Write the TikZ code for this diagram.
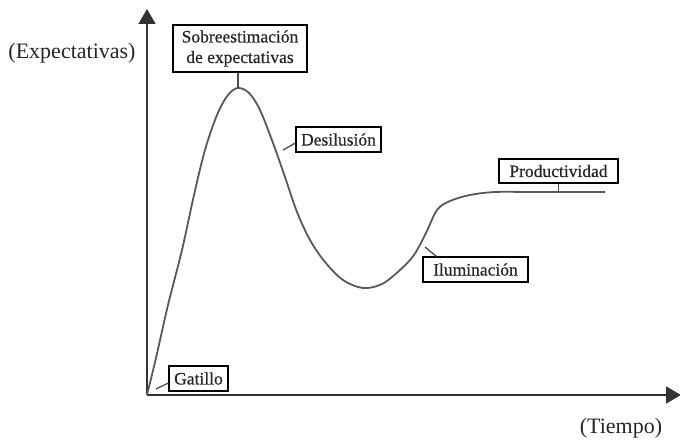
\documentclass[tikz,border=0pt]{standalone}
\usepackage{fontspec}
\setmainfont{Liberation Serif}
\newfontfamily\lblfont[FakeBold=0.5]{Liberation Serif}
\usetikzlibrary{arrows.meta}
\tikzset{
  axis/.style={line width=1.6pt, draw=black!80, -{Triangle[width=17pt,length=15pt]}},
  curve/.style={line width=1.8pt, draw=black!65, line join=round},
  lbl/.style={draw=black, line width=1.3pt, fill=white, inner sep=2pt,
              font=\lblfont\fontsize{17.5}{20.5}\selectfont, align=center, text=black!85},
  axlbl/.style={font=\fontsize{22}{26}\selectfont, inner sep=0pt, text=black!85},
  tick/.style={line width=1.3pt, draw=black!70},
}
\begin{document}
\begin{tikzpicture}[x=1pt,y=-1pt]
\useasboundingbox (0,0) rectangle (680,441);
% axes
\coordinate (o) at (147,395);
\coordinate (ytip) at (147,9);
\coordinate (xtip) at (681,395);
\draw[axis] (o) -- (ytip);
\draw[axis] (o) -- (xtip);
% curve
\coordinate (peak) at (238,88);
\coordinate (flat) at (558,192);
\draw[curve] plot[smooth, tension=0.55] coordinates {
  (147,395) (156,358) (168,305) (182,250) (194,195) (205,150) (217,115)
  (228,95) (238,88) (249,93) (260,110) (273,143) (285,177) (297,212)
  (310,240) (325,262) (343,280) (363,288) (382,284) (400,270) (414,255)
  (426,233) (437,210) (450,201) (470,195) (495,192) (530,192) (570,192) (605,192)};
% labels
\node[axlbl] (ylab) at (72,53) {(Expectativas)};
\node[axlbl] (xlab) at (621,428) {(Tiempo)};
\node[lbl, minimum width=134pt, minimum height=47pt] (sob) at (240,48.5)
  {Sobreestimación\\de expectativas};
\node[lbl, minimum width=85pt, minimum height=25pt] (des) at (338.5,139.5) {Desilusión};
\node[lbl, minimum width=105pt, minimum height=25pt] (ilu) at (475.5,269.5) {Iluminación};
\node[lbl, minimum width=119pt, minimum height=24pt] (pro) at (558.5,171) {Productividad};
\node[lbl, minimum width=59pt, minimum height=25pt] (gat) at (198.5,378.5) {Gatillo};
% connectors
\coordinate (dpt) at (283,150);
\coordinate (ipt) at (425,247);
\coordinate (gpt) at (156,389);
\draw[tick] (sob.south -| peak) -- (peak);
\draw[tick] (dpt) -- ([yshift=-3.5pt]des.west);
\draw[tick] (ipt) -- ([xshift=14pt]ilu.north west);
\draw[tick] (pro.south) -- (pro.south |- flat);
\draw[tick] (gpt) -- ([yshift=-4.5pt]gat.west);
\end{tikzpicture}
\end{document}
